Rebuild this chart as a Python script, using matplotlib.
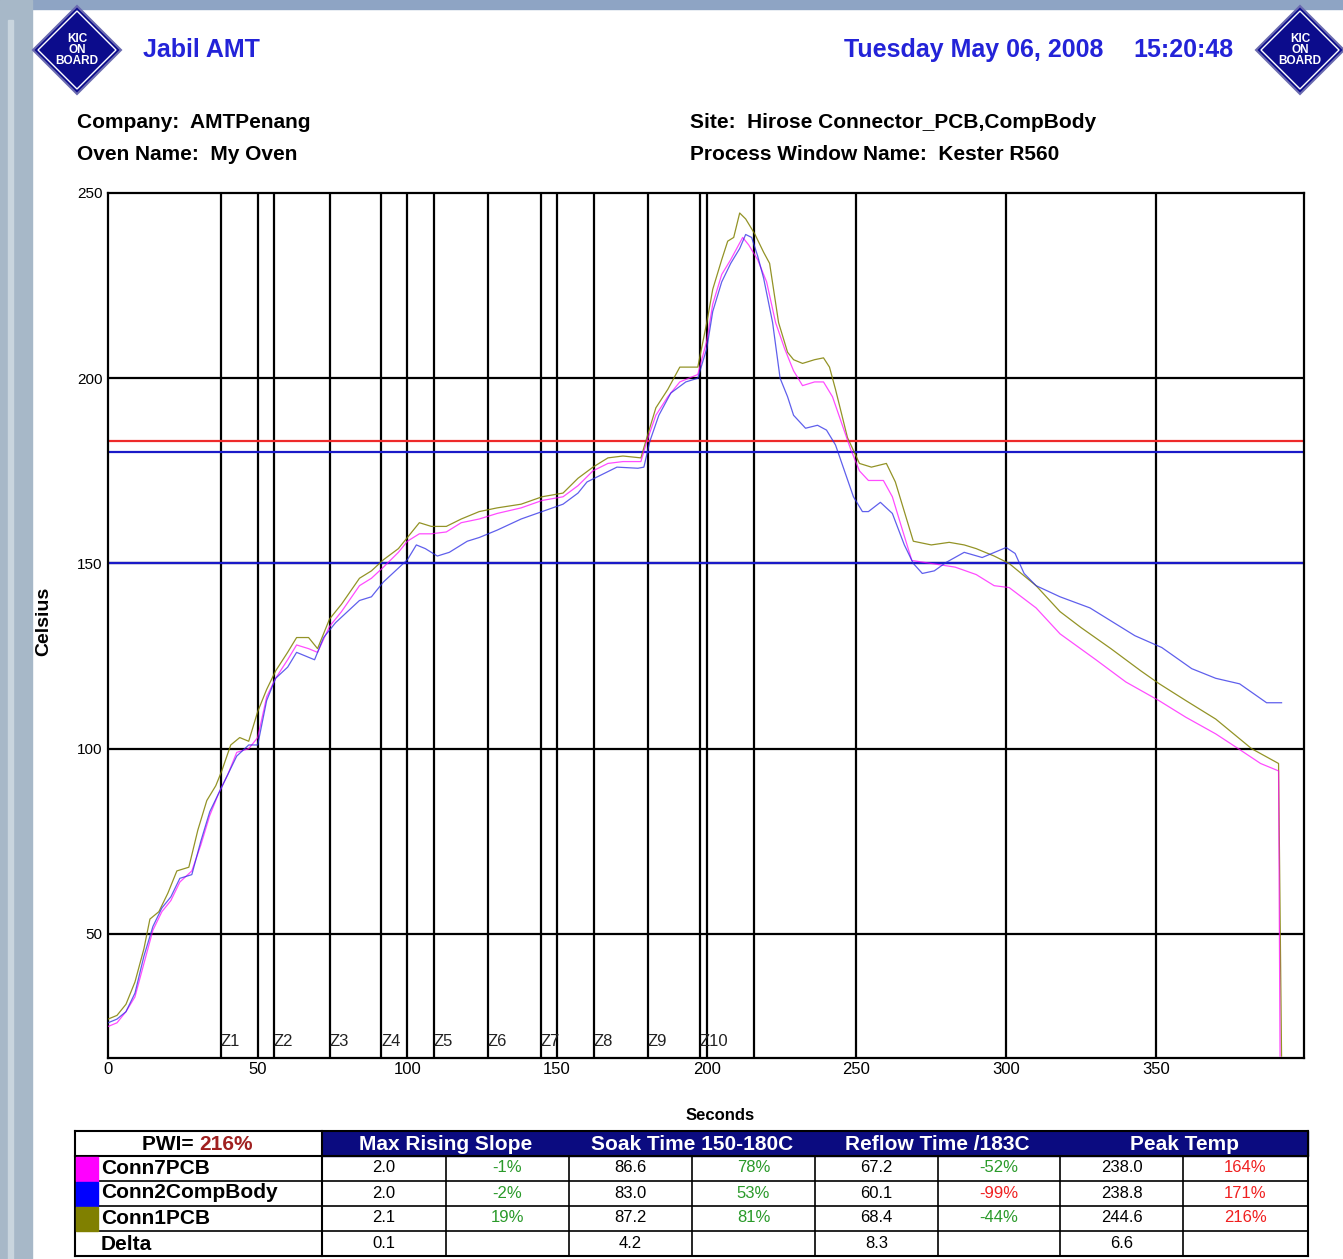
import matplotlib
matplotlib.use('Agg')
import matplotlib.pyplot as plt
from matplotlib.patches import Polygon, Rectangle
from matplotlib.lines import Line2D

plt.rcParams['font.family'] = ['Liberation Sans', 'DejaVu Sans']

# ---- profile data (seconds, Celsius) ----
conn1_t = [0, 3, 6, 9, 12, 14, 17, 20, 23, 27, 30, 33, 36, 38, 41, 44, 47, 50, 53, 56,
           60, 63, 67, 70, 74, 78, 84, 88, 92, 97, 100, 104, 108, 113, 118, 124, 130, 138,
           145, 152, 157, 162, 167, 172, 178, 180, 183, 187, 191, 197, 200, 202, 205, 207,
           209, 211, 213, 216, 219, 221, 224, 227, 229, 232, 236, 239, 241, 243, 247, 251,
           255, 260, 263, 266, 269, 275, 281, 286, 290, 296, 301, 310, 318, 325, 335, 345,
           351, 360, 370, 382, 391, 392]
conn1_v = [27, 28, 31, 37, 46, 54, 56, 61, 67, 68, 78, 86, 90, 94, 101, 103, 102, 110, 116, 121,
           126, 130, 130, 127, 135, 139, 146, 148, 151, 154, 157, 161, 160, 160, 162, 164, 165, 166,
           168, 169, 173, 176, 178.5, 179, 178.5, 184, 192, 197, 203, 203, 215, 224, 232, 237,
           238, 244.6, 243, 239, 234, 231, 215, 207, 205, 204, 205, 205.5, 203, 197, 184, 177,
           176, 177, 172, 164, 156, 155, 155.7, 155, 154, 152, 150, 144, 137, 132.7, 127, 121,
           117.6, 113, 108, 100, 96, 17]

conn2_t = [0, 3, 6, 9, 12, 15, 18, 21, 24, 28, 31, 34, 37, 40, 43, 47, 50, 53, 56, 60,
           63, 66, 69, 72, 76, 80, 84, 88, 92, 96, 100, 103, 106, 110, 114, 120, 124, 130,
           138, 145, 152, 157, 160, 165, 170, 177, 179, 181, 184, 188, 193, 197, 200, 202,
           205, 208, 211, 213, 215, 217, 219, 222, 224.5, 227, 229, 233, 237, 240, 243, 246,
           249, 252, 254, 258, 262, 266, 269, 272, 276, 280, 286, 292, 300, 303, 306, 310,
           318, 328, 336, 343, 352, 362, 370, 378, 387, 392]
conn2_v = [26, 27, 29, 34, 44, 52, 57, 60, 65, 66, 75, 83, 88, 93, 98, 101, 101, 113, 119, 122,
           126, 125, 124, 130, 134, 137, 140, 141, 145, 148, 151, 155, 154, 152, 153, 156, 157, 159,
           162, 164, 166, 169, 172, 174, 176, 175.7, 176, 183, 190, 196, 199, 200, 208, 218,
           226, 231, 235, 238.8, 238, 233, 227, 215, 200, 195, 190, 186.5, 187.3, 186, 182, 175,
           168, 164, 164, 166.5, 163.5, 155, 150, 147.3, 148, 150.3, 153, 151.6, 154.3, 152.7, 147.3, 144,
           141, 138, 134, 130.5, 127.3, 121.6, 119, 117.5, 112.4, 112.4]

conn7_t = [0, 3, 6, 9, 12, 15, 18, 21, 24, 28, 31, 34, 37, 40, 43, 47, 50, 53, 56, 60,
           63, 67, 70, 74, 78, 84, 88, 92, 97, 100, 104, 108, 113, 118, 124, 130, 138, 145,
           152, 157, 162, 167, 172, 178, 180, 183, 187, 191, 197, 200, 202, 205, 208, 210,
           212, 214, 217, 220, 223, 226, 229, 232, 236, 239, 242, 245, 248, 251, 254, 259,
           262, 265, 268.5, 275, 283, 290, 296, 301, 310, 318, 330, 340, 351, 360, 370, 377,
           385, 391, 391.5]
conn7_v = [25, 26, 29, 33, 42, 51, 56, 59, 64, 67, 74, 82, 88, 93, 99, 100, 103, 114, 119, 124,
           128, 127, 126, 133, 137, 144, 146, 149, 153, 156, 158, 158, 158.5, 161, 162, 163.5, 165, 167,
           168, 171, 175, 177, 177.5, 177.5, 183, 190, 195, 199, 201, 210, 220, 228, 232, 235,
           238, 236, 232, 226, 215, 208, 202, 198, 199, 199, 195, 188, 181, 175, 172.4, 172.4,
           168, 160, 150.8, 150, 149, 147, 144, 143.5, 138, 131, 124, 118, 113, 108.5, 104, 100.3,
           96, 94, 17]

zone_edges = [37.7, 55.4, 74.1, 91.2, 108.8, 126.9, 144.6, 162.3, 180.3, 197.7, 215.7]
zone_names = ['Z1', 'Z2', 'Z3', 'Z4', 'Z5', 'Z6', 'Z7', 'Z8', 'Z9', 'Z10']
grid_x = [50, 100, 150, 200, 250, 300, 350]
grid_y = [50, 100, 150, 200]
limit_lines = [183, 180, 150]
limit_colors = ['#ee2a2a', '#1a1ac8', '#1a1ac8']

# ---- table data ----
probe_names = ['Conn7PCB', 'Conn2CompBody', 'Conn1PCB']
probe_colors = ['#ff00ff', '#0000ff', '#808000']
col_headers = ['Max Rising Slope', 'Soak Time 150-180C', 'Reflow Time /183C', 'Peak Temp']
values = [['2.0', '86.6', '67.2', '238.0'],
          ['2.0', '83.0', '60.1', '238.8'],
          ['2.1', '87.2', '68.4', '244.6']]
pcts = [['-1%', '78%', '-52%', '164%'],
        ['-2%', '53%', '-99%', '171%'],
        ['19%', '81%', '-44%', '216%']]
pct_red = [[False, False, False, True],
           [False, False, True, True],
           [False, False, False, True]]
delta = ['0.1', '4.2', '8.3', '6.6']

W, H = 1343, 1259
fig = plt.figure(figsize=(W / 100, H / 100), dpi=100)


def fx(x):
    return x / W


def fy(y):
    return 1 - y / H


# slide border
fig.patches.append(Rectangle((0, fy(9)), 1, 9 / H, transform=fig.transFigure,
                             color='#8ea4c4', zorder=0))
fig.patches.append(Rectangle((0, 0), fx(32), 1, transform=fig.transFigure,
                             color='#a7b8c8', zorder=0))
fig.patches.append(Rectangle((fx(8), 0), fx(5), fy(20), transform=fig.transFigure,
                             color='#c9d5de', zorder=0))


def logo(cx, cy, r=44):
    pts = [(fx(cx - r), fy(cy)), (fx(cx), fy(cy - r)), (fx(cx + r), fy(cy)), (fx(cx), fy(cy + r))]
    fig.patches.append(Polygon(pts, closed=True, transform=fig.transFigure,
                               facecolor='#0c0c8c', edgecolor='#6a6ab0', lw=1.5, zorder=2))
    r2 = r - 5
    pts2 = [(fx(cx - r2), fy(cy)), (fx(cx), fy(cy - r2)), (fx(cx + r2), fy(cy)), (fx(cx), fy(cy + r2))]
    fig.patches.append(Polygon(pts2, closed=True, transform=fig.transFigure,
                               facecolor='none', edgecolor='white', lw=1, zorder=3))
    fig.text(fx(cx), fy(cy), 'KIC\nON\nBOARD', color='white', fontsize=8.5, weight='bold',
             ha='center', va='center', linespacing=0.9, zorder=4)


logo(77, 50)
logo(1300, 50)

blue_txt = '#2323d8'
fig.text(fx(143), fy(50), 'Jabil AMT', color=blue_txt, fontsize=18, weight='bold', va='center')
fig.text(fx(1103), fy(50), 'Tuesday May 06, 2008', color=blue_txt, fontsize=18, weight='bold',
         va='center', ha='right')
fig.text(fx(1133), fy(50), '15:20:48', color=blue_txt, fontsize=18, weight='bold', va='center')

fig.text(fx(77), fy(123), 'Company:  AMTPenang', fontsize=15, weight='bold', va='center')
fig.text(fx(77), fy(154), 'Oven Name:  My Oven', fontsize=15, weight='bold', va='center')
fig.text(fx(690), fy(123), 'Site:  Hirose Connector_PCB,CompBody', fontsize=15, weight='bold', va='center')
fig.text(fx(690), fy(154), 'Process Window Name:  Kester R560', fontsize=15, weight='bold', va='center')

# ---- chart ----
ax = fig.add_axes([fx(108), fy(1058), fx(1304) - fx(108), fy(193) - fy(1058)])
ax.set_xlim(0, 399.5)
ax.set_ylim(16.5, 250)

for g in grid_x:
    ax.axvline(g, color='black', lw=1.6, zorder=1)
for g in grid_y:
    ax.axhline(g, color='black', lw=1.6, zorder=1)
for z in zone_edges:
    ax.axvline(z, color='black', lw=1.6, zorder=1)
for z, name in zip(zone_edges[:-1], zone_names):
    ax.text(z, 19, name, fontsize=12, ha='left', va='bottom', color='#222222')
for v, c in zip(limit_lines, limit_colors):
    ax.axhline(v, color=c, lw=1.6, zorder=2)

ax.plot(conn1_t, conn1_v, color='#808000', lw=0.9, alpha=0.85, zorder=3)
ax.plot(conn7_t, conn7_v, color='#ff00ff', lw=0.9, alpha=0.7, zorder=3)
ax.plot(conn2_t, conn2_v, color='#2a2ae6', lw=0.9, alpha=0.75, zorder=3)

ax.set_xticks([0, 50, 100, 150, 200, 250, 300, 350])
ax.set_yticks([50, 100, 150, 200, 250])
ax.tick_params(length=0, labelsize=11, pad=4)
ax.tick_params(axis='x', labelsize=12, pad=3)
for s in ax.spines.values():
    s.set_linewidth(1.6)
fig.text(fx(44), fy(621), 'Celsius', fontsize=14, weight='bold', rotation=90,
         ha='center', va='center')
fig.text(fx(720), fy(1116), 'Seconds', fontsize=12, weight='bold', ha='center', va='center')

# ---- summary table ----
cols = [322, 446, 569, 692, 815, 938, 1060, 1183, 1308]
row_y = [1131, 1156, 1181, 1206, 1231, 1256]


def hline(x0, x1, y, lw=1.5):
    fig.lines.append(Line2D([fx(x0), fx(x1)], [fy(y), fy(y)], transform=fig.transFigure,
                            color='black', lw=lw, zorder=2))


def vline(x, y0, y1, lw=1.5):
    fig.lines.append(Line2D([fx(x), fx(x)], [fy(y0), fy(y1)], transform=fig.transFigure,
                            color='black', lw=lw, zorder=2))


fig.patches.append(Rectangle((fx(322), fy(1156)), fx(1308) - fx(322), (1156 - 1131) / H,
                             transform=fig.transFigure, color='#0b0b80', zorder=1))
hline(75, 1308, 1131)
hline(75, 1308, 1156)
for y in row_y[2:5]:
    hline(98, 1308, y, lw=1.2)
hline(75, 1308, 1256)
vline(75, 1131, 1256)
vline(322, 1131, 1256)
vline(1308, 1131, 1256)
for x in cols[1:-1]:
    vline(x, 1156, 1256, lw=1.2)

fig.text(fx(199), fy(1145), 'PWI= ', fontsize=15, weight='bold', ha='right', va='center')
fig.text(fx(199), fy(1145), '216%', fontsize=15, weight='bold', ha='left', va='center', color='#a02020')
for i, h in enumerate(col_headers):
    fig.text(fx((cols[2 * i] + cols[2 * i + 2]) / 2), fy(1144), h, fontsize=15, weight='bold',
             color='white', ha='center', va='center')

wb = dict(facecolor='white', edgecolor='none', pad=1.5)
for r in range(3):
    yc = 1168 + 25 * r
    fig.patches.append(Rectangle((fx(76), fy(row_y[r + 2])), fx(98) - fx(76), 24 / H,
                                 transform=fig.transFigure, color=probe_colors[r], zorder=3))
    fig.text(fx(101), fy(yc), probe_names[r], fontsize=15, weight='bold', va='center')
    for c in range(4):
        fig.text(fx((cols[2 * c] + cols[2 * c + 1]) / 2), fy(yc), values[r][c], fontsize=12,
                 ha='center', va='center', bbox=wb, zorder=4)
        fig.text(fx((cols[2 * c + 1] + cols[2 * c + 2]) / 2), fy(yc), pcts[r][c], fontsize=12,
                 ha='center', va='center', color='#f02020' if pct_red[r][c] else '#2a9a2a',
                 bbox=wb, zorder=4)
fig.text(fx(101), fy(1244), 'Delta', fontsize=15, weight='bold', va='center')
for c in range(4):
    fig.text(fx((cols[2 * c] + cols[2 * c + 1]) / 2), fy(1243), delta[c], fontsize=12,
             ha='center', va='center', bbox=wb, zorder=4)

fig.savefig('out.png', dpi=100)
